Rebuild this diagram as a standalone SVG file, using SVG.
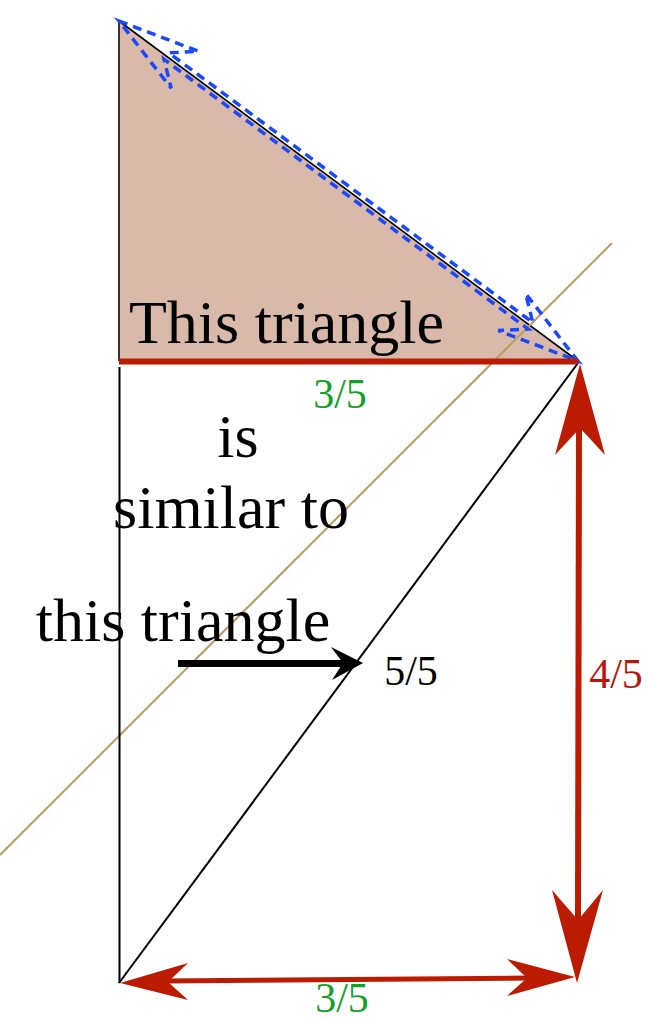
<svg xmlns="http://www.w3.org/2000/svg" width="652" height="1021" viewBox="0 0 652 1021">
  <style>
    .serif { font-family: "Liberation Serif", "Times New Roman", serif; }
    .big { font-size: 62px; fill: #000; }
    .frac { font-size: 42px; }
    .green { fill: #12a02a; }
    .red { fill: #b5170f; }
    .redline { stroke: #bb1b00; fill: none; }
    .redhead { fill: #bb1b00; stroke: none; }
    .blk { stroke: #000; fill: none; }
  </style>
  <rect width="652" height="1021" fill="#fff"/>

  <g id="top-triangle">
    <polygon points="119,21 119,361 578,361" fill="#d9b9aa"/>
    <line x1="119" y1="21" x2="119" y2="361" stroke="#333" stroke-width="2"/>
    <line x1="119" y1="21" x2="578" y2="361" stroke="#000" stroke-width="1.6"/>
  </g>

  <g id="guide-line">
    <line x1="612" y1="243" x2="0" y2="855" stroke="#b89c64" stroke-width="2"/>
  </g>

  <g id="blue-dashed-arrow">
    <polygon transform="translate(119,21) rotate(36.53)" points="0,0 82,-23 59,-4 512,-4 489,-23 571,0 489,23 512,4 59,4 82,23" fill="none" stroke="#1a48fa" stroke-width="3.5" stroke-dasharray="9,6"/>
  </g>

  <g id="lower-triangle">
    <line class="blk" x1="119.5" y1="367" x2="119.5" y2="983" stroke-width="2"/>
    <line class="blk" x1="119" y1="983" x2="578" y2="363" stroke-width="2"/>
  </g>

  <g id="connectors">
    <line class="redline" x1="119" y1="361.5" x2="578" y2="361.5" stroke-width="6"/>
    <!-- vertical 4/5 arrow -->
    <line class="redline" x1="579" y1="425" x2="578" y2="922" stroke-width="6"/>
    <polygon class="redhead" points="580,364 605,455 580,428 555,455"/>
    <polygon class="redhead" points="577,983 552,890 578,920 603,890"/>
    <!-- horizontal 3/5 arrow -->
    <line class="redline" x1="165" y1="981" x2="530" y2="978" stroke-width="5"/>
    <polygon class="redhead" points="120,983 188,963 168,982 188,1000"/>
    <polygon class="redhead" points="575,977 507,959 527,978 507,996"/>
    <!-- black pointer arrow -->
    <line class="blk" x1="178" y1="663.5" x2="346" y2="663.5" stroke-width="7"/>
    <polygon points="363,663 331,647 343,663 332,680" fill="#000"/>
  </g>

  <g id="labels">
    <text class="serif big" x="129" y="343">This triangle</text>
    <text class="serif big" x="238" y="457" text-anchor="middle">is</text>
    <text class="serif big" x="231" y="528" text-anchor="middle">similar to</text>
    <text class="serif big" x="183" y="641" text-anchor="middle">this triangle</text>
    <text class="serif frac green" x="340" y="408" text-anchor="middle">3/5</text>
    <text class="serif frac" x="411" y="685" text-anchor="middle" fill="#000">5/5</text>
    <text class="serif frac red" x="616" y="688" text-anchor="middle">4/5</text>
    <text class="serif frac green" x="342" y="1012" text-anchor="middle">3/5</text>
  </g>
</svg>
